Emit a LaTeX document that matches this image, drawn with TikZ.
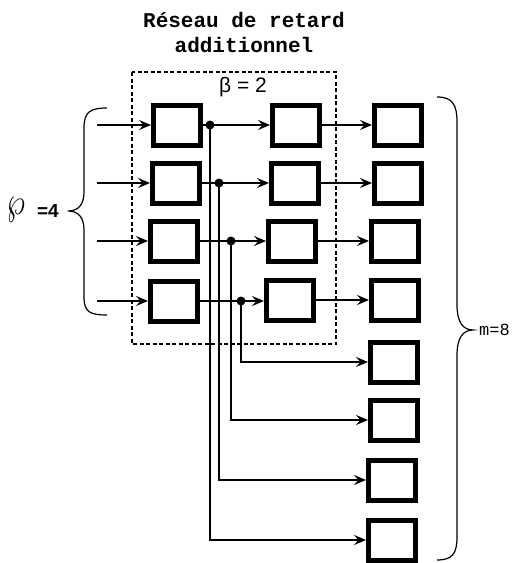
\documentclass[tikz,border=0pt]{standalone}
\usepackage{fontspec}
\usepackage{graphicx}
\newfontfamily\monofont{Liberation Mono}
\newfontfamily\arialfont{Liberation Sans}
\usetikzlibrary{arrows.meta}
\begin{document}
\begin{tikzpicture}[x=1pt,y=-1pt,
  blk/.style={draw, line width=5pt, minimum width=47pt, minimum height=40pt, inner sep=0pt},
  conn/.style={line width=1.6pt, -{Stealth[length=12pt,width=10pt,inset=4.5pt]}},
  dotmark/.style={circle, fill=black, inner sep=0pt, minimum size=9pt},
  brc/.style={line width=1.2pt},
  frame/.style={line width=1.2pt, dash pattern=on 4pt off 2.5pt}]
\useasboundingbox (0,0) rectangle (522,563);
% title
\node[font=\monofont\bfseries\fontsize{21}{25}\selectfont, align=center] (title) at (244,32)
  {Réseau de retard\\additionnel};
% dashed frame
\draw[frame] (132,72) rectangle (336,344);
\node[font=\arialfont\fontsize{21}{24}\selectfont] (beta) at (243,87) {β = 2};
% column 1
\node[blk] (a1) at (177,125) {};
\node[blk] (a2) at (176,183) {};
\node[blk] (a3) at (174,241) {};
\node[blk] (a4) at (174,301) {};
% column 2
\node[blk] (b1) at (296,125) {};
\node[blk] (b2) at (295,183) {};
\node[blk] (b3) at (292,241) {};
\node[blk] (b4) at (290,300) {};
% column 3
\node[blk] (c1) at (398,125) {};
\node[blk] (c2) at (398,183) {};
\node[blk] (c3) at (395,241) {};
\node[blk] (c4) at (395,300) {};
\node[blk] (c5) at (394,362) {};
\node[blk] (c6) at (394,420) {};
\node[blk] (c7) at (392,480) {};
\node[blk] (c8) at (392,540) {};
% inputs
\coordinate (i1) at (97,125);
\coordinate (i2) at (97,183);
\coordinate (i3) at (97,241);
\coordinate (i4) at (97,301);
\foreach \k in {1,2,3,4}{\draw[conn] (i\k) -- (a\k.west);}
% column1 -> column2
\foreach \k in {1,2,3,4}{\draw[conn] (a\k.east) -- (b\k.west|-a\k.east);}
% column2 -> column3
\foreach \k in {1,2,3,4}{\draw[conn] (b\k.east) -- (c\k.west|-b\k.east);}
% dots
\node[dotmark] (d1) at (210,125) {};
\node[dotmark] (d2) at (219,183) {};
\node[dotmark] (d3) at (231,241) {};
\node[dotmark] (d4) at (241,301) {};
% drops
\draw[conn] (d1.center) |- (c8.west);
\draw[conn] (d2.center) |- (c7.west);
\draw[conn] (d3.center) |- (c6.west);
\draw[conn] (d4.center) |- (c5.west);
% left brace
\draw[brc] (107,108) .. controls (90,108) and (84,112) .. (84,128) -- (84,192)
  .. controls (84,205) and (78,211) .. (68,211)
  .. controls (78,211) and (84,217) .. (84,230) -- (84,297)
  .. controls (84,312) and (90,315) .. (107,315);
\node[anchor=east, inner sep=0pt, font=\arialfont\bfseries\fontsize{19}{21}\selectfont] (p) at (59,211) {=4};
\node[inner sep=0pt] (wp) at (16,210) {\resizebox*{18pt}{24pt}{$\wp$}};
% right brace
\draw[brc] (437,97) .. controls (452,97) and (457,104) .. (457,122) -- (457,305)
  .. controls (457,322) and (463,330) .. (473,330)
  .. controls (463,330) and (457,338) .. (457,355) -- (457,537)
  .. controls (457,554) and (452,560) .. (437,560);
\node[anchor=west, inner sep=0pt, font=\monofont\fontsize{17}{20}\selectfont] (m) at (479,330) {m=8};
\end{tikzpicture}
\end{document}
